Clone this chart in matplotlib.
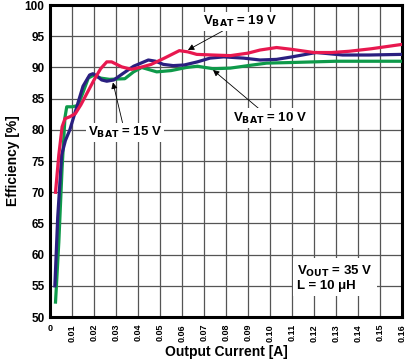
import matplotlib.pyplot as plt
import numpy as np

plt.rcParams["font.family"] = ["Liberation Sans", "DejaVu Sans"]
plt.rcParams["font.weight"] = "bold"
plt.rcParams["mathtext.default"] = "bf"

# efficiency curves
x_19v = [0.0025, 0.004, 0.0055, 0.0068, 0.009, 0.0115, 0.014, 0.017, 0.02, 0.023,
         0.0258, 0.028, 0.0326, 0.037, 0.042, 0.046, 0.052, 0.0588, 0.0627, 0.0667,
         0.074, 0.082, 0.09, 0.0955, 0.103, 0.11, 0.12, 0.128, 0.136, 0.146, 0.16]
eff_19v = [70, 76, 80.5, 81.8, 82.1, 82.6, 84, 86, 88, 89.8,
           90.9, 90.9, 90.1, 89.7, 90.1, 90.5, 91.5, 92.7, 92.5, 92.1,
           92.0, 91.9, 92.3, 92.8, 93.2, 92.9, 92.4, 92.4, 92.6, 93.0, 93.7]

x_15v = [0.0022, 0.0035, 0.0053, 0.007, 0.009, 0.012, 0.015, 0.018, 0.0195, 0.021,
         0.0235, 0.0258, 0.029, 0.033, 0.038, 0.0447, 0.048, 0.0515, 0.056, 0.061,
         0.067, 0.0727, 0.079, 0.088, 0.0955, 0.103, 0.11, 0.121, 0.133, 0.145, 0.16]
eff_15v = [55, 66, 76, 78.3, 80, 83.5, 87, 88.8, 89.0, 88.7,
           88.0, 87.8, 88.0, 89.0, 90.2, 91.2, 91.0, 90.5, 90.3, 90.4,
           90.9, 91.5, 91.7, 91.5, 91.2, 91.3, 91.7, 92.4, 92.0, 92.0, 92.1]

x_10v = [0.0025, 0.004, 0.0055, 0.0068, 0.0076, 0.01, 0.0127, 0.015, 0.0174, 0.02,
         0.023, 0.027, 0.034, 0.038, 0.0417, 0.0485, 0.055, 0.062, 0.067, 0.0741,
         0.082, 0.09, 0.0985, 0.11, 0.12, 0.13, 0.145, 0.16]
eff_10v = [52.4, 62, 74, 82, 83.7, 83.7, 83.9, 86, 88.3, 88.8,
           88.3, 88.1, 88.2, 89.3, 90.0, 89.3, 89.5, 90.0, 90.2, 89.8,
           89.9, 90.3, 90.7, 90.8, 90.9, 91.0, 91.0, 91.0]

x_ticks = np.round(np.arange(0, 0.161, 0.01), 2)
x_labels = ["0"] + [f"{v:.2f}" for v in x_ticks[1:]]

fig = plt.figure(figsize=(4.05, 3.64), dpi=100)
ax = fig.add_axes([0.1235, 0.129, 0.869, 0.857])

ax.plot(x_10v, eff_10v, color="#0e9a4a", lw=2.3, solid_joinstyle="round", zorder=3)
ax.plot(x_15v, eff_15v, color="#2a1f80", lw=2.3, solid_joinstyle="round", zorder=4)
ax.plot(x_19v, eff_19v, color="#e8184f", lw=2.3, solid_joinstyle="round", zorder=5)

ax.set_xlim(0, 0.16)
ax.set_ylim(50, 100)
ax.set_xticks(x_ticks)
ax.set_xticklabels(x_labels, rotation=90, fontsize=6.5)
ax.get_xticklabels()[0].set_rotation(0)
ax.set_yticks(range(50, 101, 5))
ax.tick_params(axis="y", labelsize=8.5, length=0, pad=4)
ax.tick_params(axis="x", length=0, pad=5)
ax.grid(True, color="#555555", lw=0.9)
ax.set_axisbelow(True)
for s in ax.spines.values():
    s.set_linewidth(2.2)

ax.set_xlabel("Output Current [A]", fontsize=10, fontweight="bold", labelpad=2)
ax.set_ylabel("Efficiency [%]", fontsize=10, fontweight="bold", labelpad=3)

box = dict(facecolor="white", edgecolor="none", pad=1.5)
arrow = dict(arrowstyle="-|>", color="black", lw=0.6, mutation_scale=9, shrinkA=0, shrinkB=0)

ax.annotate("V$_{BAT}$ = 19 V", xy=(0.0627, 92.8), xytext=(0.0865, 97.4),
            fontsize=9.5, ha="center", va="center", bbox=box, zorder=6,
            arrowprops=arrow)
ax.annotate("V$_{BAT}$ = 15 V", xy=(0.0286, 87.6), xytext=(0.034, 79.6),
            fontsize=9.5, ha="center", va="center", bbox=box, zorder=6,
            arrowprops=arrow)
ax.annotate("V$_{BAT}$ = 10 V", xy=(0.0741, 89.6), xytext=(0.1, 81.9),
            fontsize=9.5, ha="center", va="center", bbox=box, zorder=6,
            arrowprops=arrow)
ax.text(0.1125, 56.3, "V$_{OUT}$ = 35 V\nL = 10 \u03bcH", fontsize=9.5,
        ha="left", va="center", linespacing=1.15,
        bbox=dict(facecolor="white", edgecolor="none", pad=3), zorder=6)

fig.savefig("out.png", dpi=100)
